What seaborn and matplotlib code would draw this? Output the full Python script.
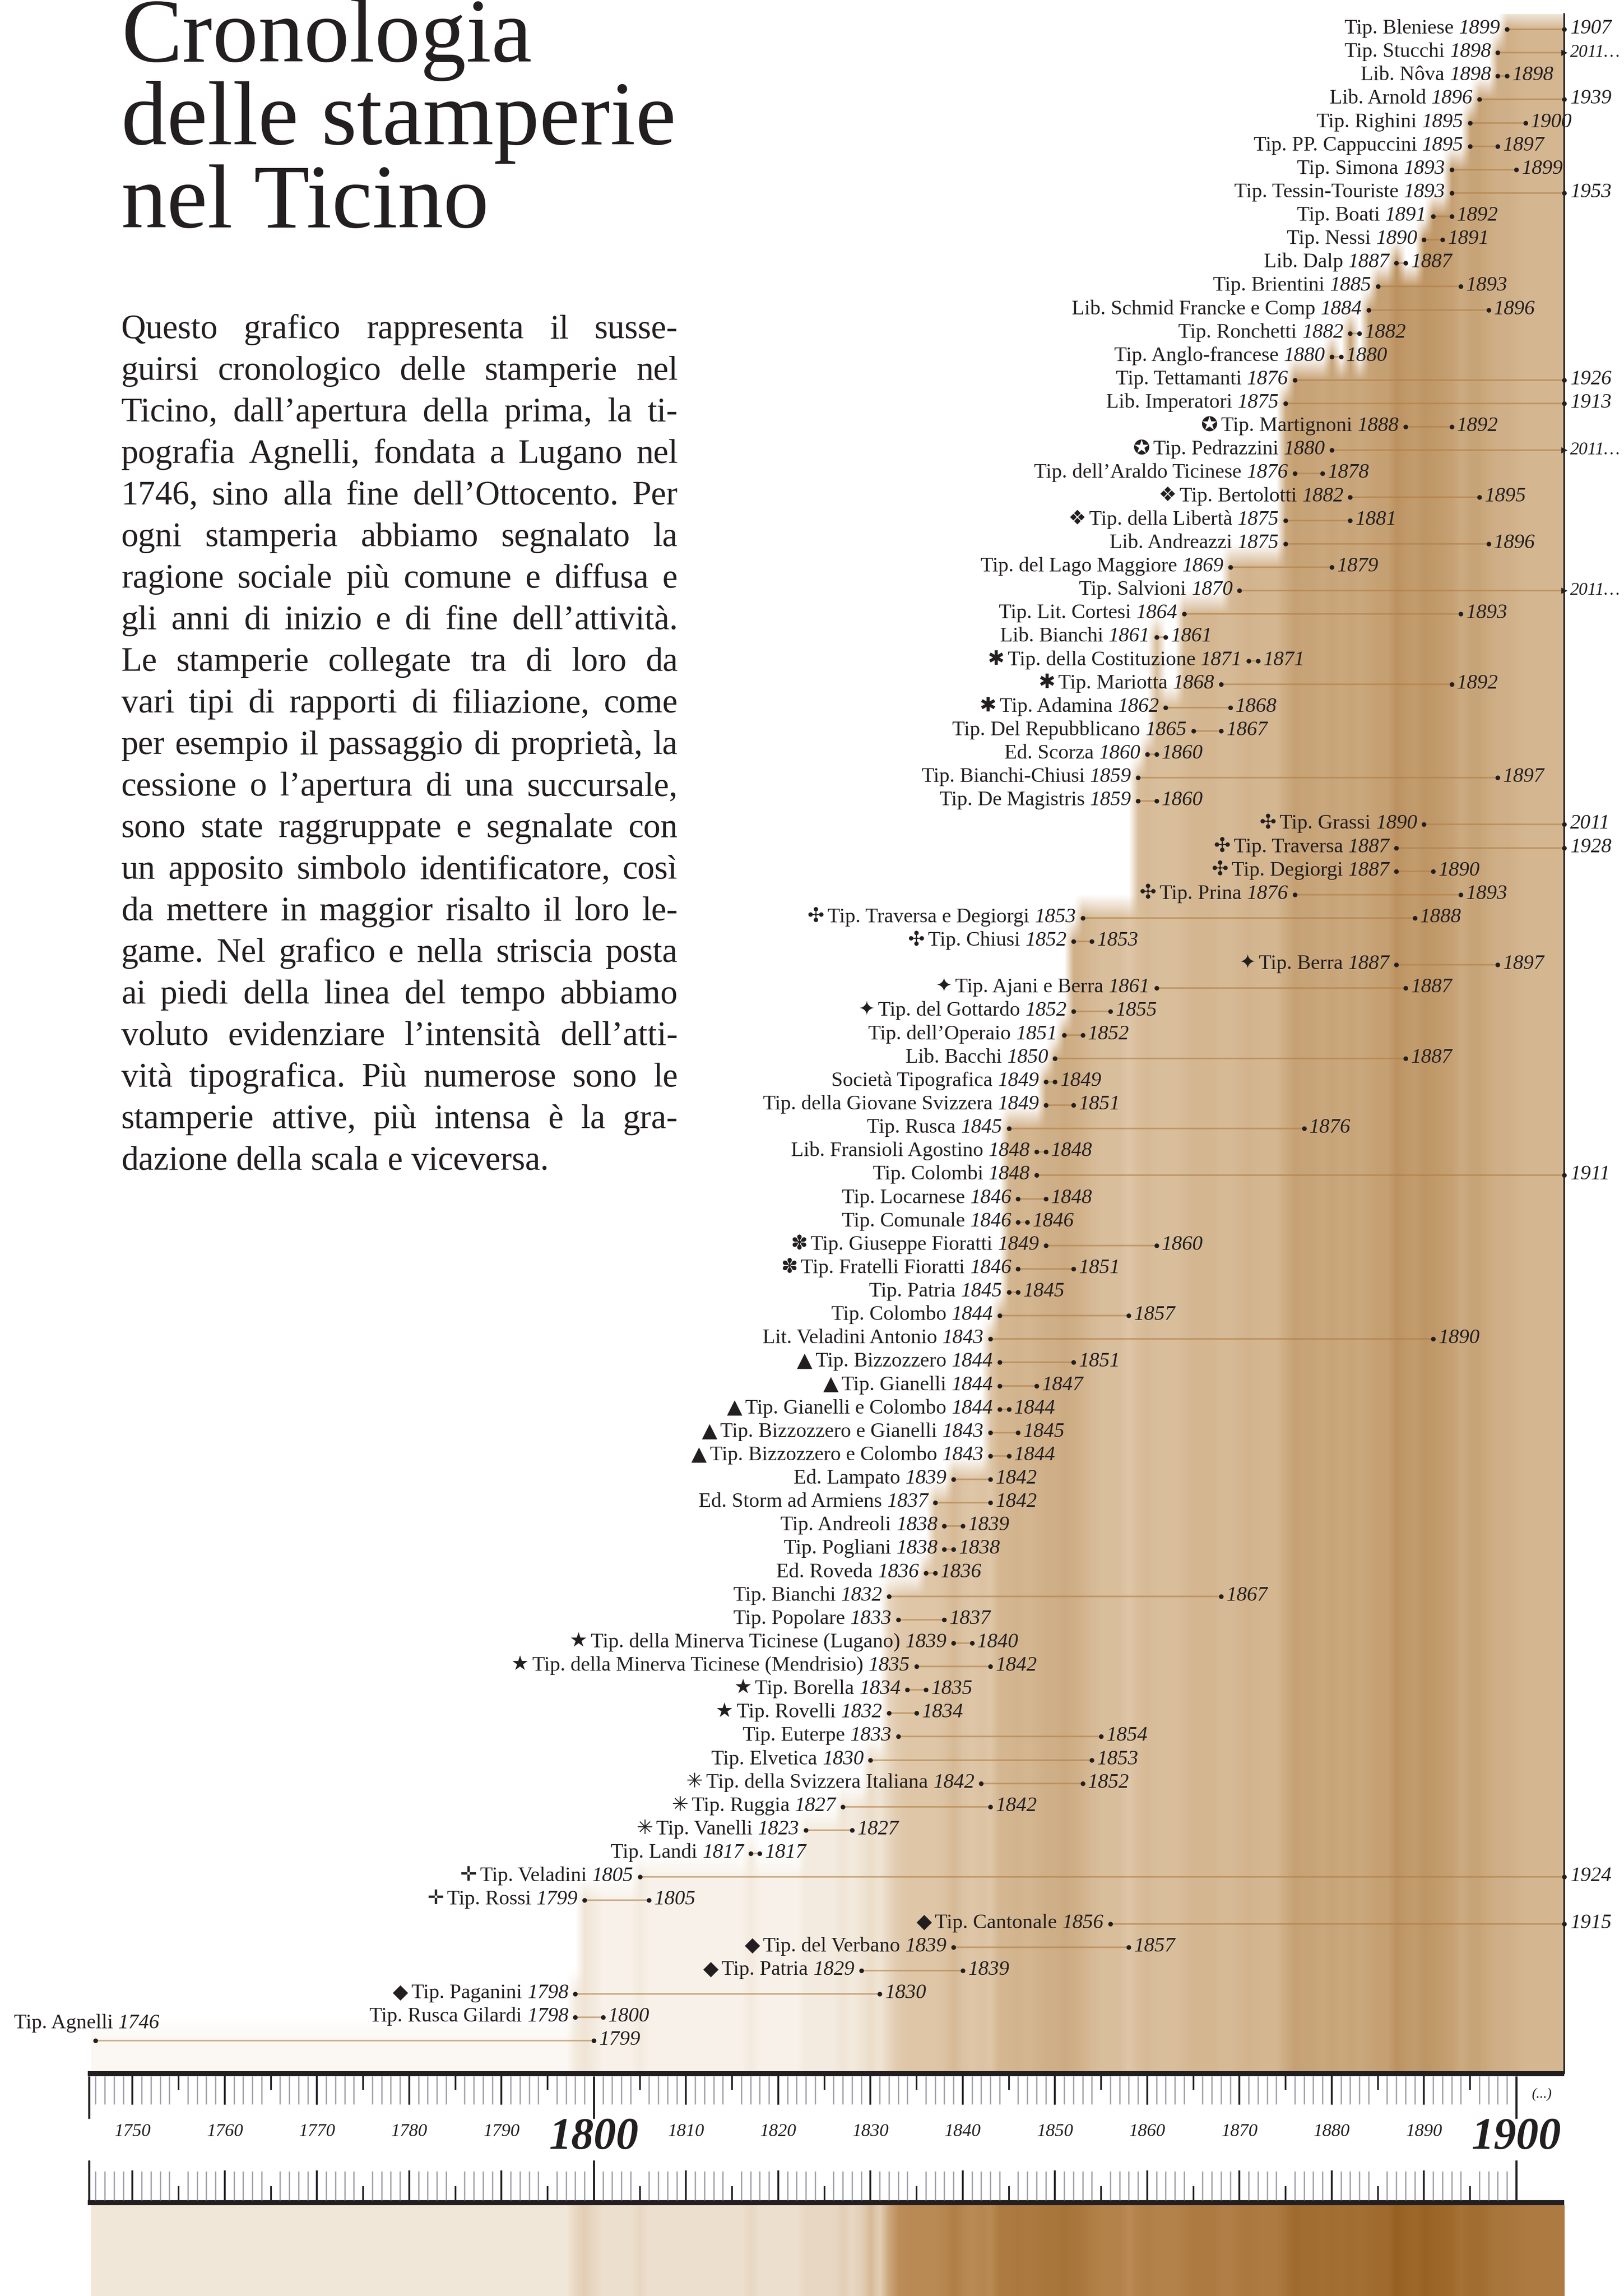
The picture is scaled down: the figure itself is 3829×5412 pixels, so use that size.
import numpy as np
import pandas as pd
import matplotlib
matplotlib.use("Agg")
import matplotlib.pyplot as plt
import seaborn as sns
from matplotlib.colors import LinearSegmentedColormap

# printing houses, top row first
names = [
    "Tip. Bleniese", "Tip. Stucchi", "Lib. Nôva", "Lib. Arnold", "Tip. Righini",
    "Tip. PP. Cappuccini", "Tip. Simona", "Tip. Tessin-Touriste", "Tip. Boati", "Tip. Nessi",
    "Lib. Dalp", "Tip. Brientini", "Lib. Schmid Francke e Comp", "Tip. Ronchetti", "Tip. Anglo-francese",
    "Tip. Tettamanti", "Lib. Imperatori", "Tip. Martignoni", "Tip. Pedrazzini", "Tip. dell’Araldo Ticinese",
    "Tip. Bertolotti", "Tip. della Libertà", "Lib. Andreazzi", "Tip. del Lago Maggiore", "Tip. Salvioni",
    "Tip. Lit. Cortesi", "Lib. Bianchi", "Tip. della Costituzione", "Tip. Mariotta", "Tip. Adamina",
    "Tip. Del Repubblicano", "Ed. Scorza", "Tip. Bianchi-Chiusi", "Tip. De Magistris", "Tip. Grassi",
    "Tip. Traversa", "Tip. Degiorgi", "Tip. Prina", "Tip. Traversa e Degiorgi", "Tip. Chiusi",
    "Tip. Berra", "Tip. Ajani e Berra", "Tip. del Gottardo", "Tip. dell’Operaio", "Lib. Bacchi",
    "Società Tipografica", "Tip. della Giovane Svizzera", "Tip. Rusca", "Lib. Fransioli Agostino", "Tip. Colombi",
    "Tip. Locarnese", "Tip. Comunale", "Tip. Giuseppe Fioratti", "Tip. Fratelli Fioratti", "Tip. Patria",
    "Tip. Colombo", "Lit. Veladini Antonio", "Tip. Bizzozzero", "Tip. Gianelli", "Tip. Gianelli e Colombo",
    "Tip. Bizzozzero e Gianelli", "Tip. Bizzozzero e Colombo", "Ed. Lampato", "Ed. Storm ad Armiens", "Tip. Andreoli",
    "Tip. Pogliani", "Ed. Roveda", "Tip. Bianchi", "Tip. Popolare", "Tip. della Minerva Ticinese (Lugano)",
    "Tip. della Minerva Ticinese (Mendrisio)", "Tip. Borella", "Tip. Rovelli", "Tip. Euterpe", "Tip. Elvetica",
    "Tip. della Svizzera Italiana", "Tip. Ruggia", "Tip. Vanelli", "Tip. Landi", "Tip. Veladini",
    "Tip. Rossi", "Tip. Cantonale", "Tip. del Verbano", "Tip. Patria", "Tip. Paganini",
    "Tip. Rusca Gilardi", "Tip. Agnelli",
]
symbols = [
    "", "", "", "", "", "", "", "", "", "",
    "", "", "", "", "", "", "", "✪", "✪", "",
    "❖", "❖", "", "", "", "", "", "✱", "✱", "✱",
    "", "", "", "", "✣", "✣", "✣", "✣", "✣", "✣",
    "✦", "✦", "✦", "", "", "", "", "", "", "",
    "", "", "✽", "✽", "", "", "", "▲", "▲", "▲",
    "▲", "▲", "", "", "", "", "", "", "", "★",
    "★", "★", "★", "", "", "✳", "✳", "✳", "", "✛",
    "✛", "◆", "◆", "◆", "◆", "", "",
]
starts = [
    1899, 1898, 1898, 1896, 1895, 1895, 1893, 1893, 1891, 1890,
    1887, 1885, 1884, 1882, 1880, 1876, 1875, 1888, 1880, 1876,
    1882, 1875, 1875, 1869, 1870, 1864, 1861, 1871, 1868, 1862,
    1865, 1860, 1859, 1859, 1890, 1887, 1887, 1876, 1853, 1852,
    1887, 1861, 1852, 1851, 1850, 1849, 1849, 1845, 1848, 1848,
    1846, 1846, 1849, 1846, 1845, 1844, 1843, 1844, 1844, 1844,
    1843, 1843, 1839, 1837, 1838, 1838, 1836, 1832, 1833, 1839,
    1835, 1834, 1832, 1833, 1830, 1842, 1827, 1823, 1817, 1805,
    1799, 1856, 1839, 1829, 1798, 1798, 1746,
]
ends = [
    1907, 2011, 1898, 1939, 1900, 1897, 1899, 1953, 1892, 1891,
    1887, 1893, 1896, 1882, 1880, 1926, 1913, 1892, 2011, 1878,
    1895, 1881, 1896, 1879, 2011, 1893, 1861, 1871, 1892, 1868,
    1867, 1860, 1897, 1860, 2011, 1928, 1890, 1893, 1888, 1853,
    1897, 1887, 1855, 1852, 1887, 1849, 1851, 1876, 1848, 1911,
    1848, 1846, 1860, 1851, 1845, 1857, 1890, 1851, 1847, 1844,
    1845, 1844, 1842, 1842, 1839, 1838, 1836, 1867, 1837, 1840,
    1842, 1835, 1834, 1854, 1853, 1852, 1842, 1827, 1817, 1924,
    1805, 1915, 1857, 1839, 1830, 1800, 1799,
]
still_active = ["Tip. Stucchi", "Tip. Pedrazzini", "Tip. Salvioni"]

title_lines = ["Cronologia", "delle stamperie", "nel Ticino"]
intro_lines = [
    "Questo grafico rappresenta il susse-",
    "guirsi cronologico delle stamperie nel",
    "Ticino, dall’apertura della prima, la ti-",
    "pografia Agnelli, fondata a Lugano nel",
    "1746, sino alla fine dell’Ottocento. Per",
    "ogni stamperia abbiamo segnalato la",
    "ragione sociale più comune e diffusa e",
    "gli anni di inizio e di fine dell’attività.",
    "Le stamperie collegate tra di loro da",
    "vari tipi di rapporti di filiazione, come",
    "per esempio il passaggio di proprietà, la",
    "cessione o l’apertura di una succursale,",
    "sono state raggruppate e segnalate con",
    "un apposito simbolo identificatore, così",
    "da mettere in maggior risalto il loro le-",
    "game. Nel grafico e nella striscia posta",
    "ai piedi della linea del tempo abbiamo",
    "voluto evidenziare l’intensità dell’atti-",
    "vità tipografica. Più numerose sono le",
    "stamperie attive, più intensa è la gra-",
    "dazione della scala e viceversa.",
]

# ---- layout (pixels) ----
W, H = 3830, 5412
AX_L, AX_R = 207, 3688
MAIN_TOP, MAIN_BOT = 33, 4887
ROW0, ROW_STEP = 69, 55.13
XMIN, XMAX = 1745.15, 1905.2
INK = "#231f20"
SERIF = ["Liberation Serif", "DejaVu Sans"]

sns.set_style("white")
plt.rcParams["font.family"] = SERIF

fig = plt.figure(figsize=(W / 100, H / 100), dpi=100)
renderer = fig.canvas.get_renderer()


def px_axes(x0, y0, x1, y1):
    return fig.add_axes([x0 / W, 1 - y1 / H, (x1 - x0) / W, (y1 - y0) / H])


def text_width(s, **kw):
    t = fig.text(0, 0, s, **kw)
    w = t.get_window_extent(renderer=renderer).width
    t.remove()
    return w


def rgb(*c):
    return tuple(v / 255 for v in c)


n = len(names)
starts_a = np.array(starts)
ends_a = np.array(ends)
rows = np.arange(n)

# activity per year
years = np.arange(1746, 1906)
active = (starts_a[None, :] <= years[:, None]) & (ends_a[None, :] >= years[:, None])
counts = active.sum(axis=1)
top_row = np.array([rows[a].min() if a.any() else n for a in active])
cmax = counts.max()

main_cmap = LinearSegmentedColormap.from_list("main", [
    (0.0, rgb(255, 255, 255)), (0.07, rgb(249, 244, 237)), (0.17, rgb(240, 229, 214)),
    (0.3, rgb(228, 207, 180)), (0.55, rgb(213, 184, 147)), (1.0, rgb(188, 146, 96))])
strip_cmap = LinearSegmentedColormap.from_list("strip", [
    (0.0, rgb(246, 238, 227)), (0.07, rgb(239, 227, 211)), (0.17, rgb(228, 208, 184)),
    (0.3, rgb(192, 147, 95)), (0.55, rgb(174, 124, 67)), (1.0, rgb(150, 96, 32))])

# ---- main chart ----
ax = px_axes(AX_L, MAIN_TOP, AX_R, MAIN_BOT)
y_top = (MAIN_TOP - ROW0) / ROW_STEP
y_bot = (MAIN_BOT - ROW0) / ROW_STEP
ax.set_xticks([])
ax.set_yticks([])
for side in ["top", "left", "bottom"]:
    ax.spines[side].set_visible(False)
ax.spines["right"].set_linewidth(2.8)
ax.spines["right"].set_color(INK)

# shaded columns: each year filled from its topmost active row down, soft edges
grid_rows = np.arange(-1, n + 2)
shade = np.where(grid_rows[:, None] >= top_row[None, :], counts[None, :] / cmax, 0.0)
ax.imshow(main_cmap(shade), extent=(1745.5, 1905.5, n + 1.5, -1.5), aspect="auto",
          interpolation="bilinear", origin="upper", zorder=0)
ax.set_xlim(XMIN, XMAX)
ax.set_ylim(y_bot, y_top)

end_x = np.minimum(ends_a + 1, XMAX)
ax.hlines(rows, starts_a, end_x, colors="#b07c42", lw=2.6, alpha=0.6, zorder=1)

dots = pd.DataFrame({"x": np.concatenate([starts_a, end_x]),
                     "y": np.concatenate([rows, rows])})
is_open = np.array([nm in still_active for nm in names])
dots["open"] = np.concatenate([np.zeros(n, bool), is_open])
sns.scatterplot(data=dots[~dots["open"]], x="x", y="y", ax=ax, color=INK, s=62,
                linewidth=0, legend=False, zorder=3, clip_on=False)
sns.scatterplot(data=dots[dots["open"]], x="x", y="y", ax=ax, color=INK, s=110, marker=">",
                linewidth=0, legend=False, zorder=3, clip_on=False)
ax.set_xlabel("")
ax.set_ylabel("")

FS = 35
SYM_FS = 34
SP = text_width("a a", fontsize=FS) - text_width("aa", fontsize=FS)
BASE = -10
for i in range(n):
    yr = str(starts[i])
    w_y = text_width(yr, fontsize=FS, style="italic")
    w_n = text_width(names[i], fontsize=FS)
    sym = symbols[i]
    w_s = text_width(sym, fontsize=SYM_FS, family="DejaVu Sans") if sym else 0
    gap = 16
    total = gap + w_y + SP + w_n + (SP + w_s if sym else 0)
    dot_px = ax.transData.transform((starts[i], i))[0]
    if dot_px - total < 20:
        # no room on the left: label sits above the first dot
        dx0 = 33 - dot_px
        ax.annotate(names[i], (starts[i], i), xytext=(dx0, 29), textcoords="offset pixels",
                    ha="left", va="baseline", fontsize=FS, color=INK, zorder=4)
        ax.annotate(yr, (starts[i], i), xytext=(dx0 + w_n + SP, 29), textcoords="offset pixels",
                    ha="left", va="baseline", fontsize=FS, style="italic", color=INK, zorder=4)
    else:
        ax.annotate(yr, (starts[i], i), xytext=(-gap, BASE), textcoords="offset pixels",
                    ha="right", va="baseline", fontsize=FS, style="italic", color=INK, zorder=4)
        ax.annotate(names[i], (starts[i], i), xytext=(-gap - w_y - SP, BASE),
                    textcoords="offset pixels", ha="right", va="baseline", fontsize=FS,
                    color=INK, zorder=4)
        if sym:
            ax.annotate(sym, (starts[i], i), xytext=(-gap - w_y - 1.6 * SP - w_n, BASE + 1),
                        textcoords="offset pixels", ha="right", va="baseline", fontsize=SYM_FS,
                        family="DejaVu Sans", color=INK, zorder=4)
    # end label
    lab = f"{ends[i]}…" if names[i] in still_active else str(ends[i])
    off = 14 if ends[i] + 1 > XMAX else 12
    efs = FS
    if ends[i] + 1 > XMAX:
        room = W - 10 - (AX_R + off)
        efs = min(FS, FS * room / text_width(lab, fontsize=FS, style="italic"))
    ax.annotate(lab, (end_x[i], i), xytext=(off, BASE), textcoords="offset pixels",
                ha="left", va="baseline", fontsize=efs, style="italic", color=INK,
                zorder=4, annotation_clip=False)

# ---- ruler ----
axr = px_axes(AX_L, 4880, AX_R, 5200)
axr.set_xlim(XMIN, XMAX)
axr.set_ylim(5200, 4880)
axr.axis("off")
axr.hlines([4888, 5192], XMIN, XMAX, color=INK, lw=8.6)
minor = [y for y in range(1746, 1900) if y % 5]
fives = list(range(1755, 1900, 10))
decades = [y for y in range(1750, 1900, 10) if y % 100]
centuries = [1800, 1900]
axr.vlines(minor, 4894, 4960, color="#a3a3ad", lw=2.3)
axr.vlines(fives, 4894, 4926, color=INK, lw=2.8)
axr.vlines(decades, 4894, 4961, color=INK, lw=3.2)
axr.vlines(centuries + [XMIN + 0.12], 4894, 4994, color=INK, lw=3.6)
axr.vlines(minor, 5118, 5186, color="#a3a3ad", lw=2.3)
axr.vlines(fives, 5153, 5186, color=INK, lw=2.8)
axr.vlines(decades, 5116, 5186, color=INK, lw=3.2)
axr.vlines(centuries + [XMIN + 0.12], 5092, 5186, color=INK, lw=3.6)
for d in decades:
    axr.text(d, 5025, str(d), ha="center", va="center", fontsize=31, style="italic", color=INK)
for c in centuries:
    axr.text(c, 5040, str(c), ha="center", va="center", fontsize=76, style="italic",
             weight="bold", color=INK)
axr.text(1902.8, 4937, "(...)", ha="center", va="center", fontsize=24, style="italic", color=INK)

# ---- intensity strip ----
axs = px_axes(AX_L, 5198, AX_R, H)
axs.imshow(strip_cmap(counts[None, :] / cmax), extent=(1745.5, 1905.5, 0, 1), aspect="auto",
           interpolation="bilinear")
axs.set_xlim(XMIN, XMAX)
axs.set_ylim(0, 1)
axs.axis("off")

# ---- title and text ----
TFS = 100 * 1308 / text_width("delle stamperie", fontsize=100)
for k, line in enumerate(title_lines):
    fig.text(286 / W, 1 - (145 + 195.5 * k) / H, line, fontsize=TFS, color=INK,
             ha="left", va="baseline")

PL, PR = 286, 1598
widest = max(text_width(l, fontsize=50) for l in intro_lines)
PFS = min(58, 50 * (PR - PL) / widest * 0.99)
for k, line in enumerate(intro_lines):
    words = line.split(" ")
    ws = [text_width(w_, fontsize=PFS) for w_ in words]
    if k == len(intro_lines) - 1 or len(words) == 1:
        sp = text_width("a a", fontsize=PFS) - text_width("aa", fontsize=PFS)
    else:
        sp = (PR - PL - sum(ws)) / (len(words) - 1)
    x = PL
    yb = 797 + 98.0 * k
    for w_, wd in zip(words, ws):
        fig.text(x / W, 1 - yb / H, w_, fontsize=PFS, color=INK, ha="left", va="baseline")
        x += wd + sp

fig.savefig("out.png", dpi=100, facecolor="white")
